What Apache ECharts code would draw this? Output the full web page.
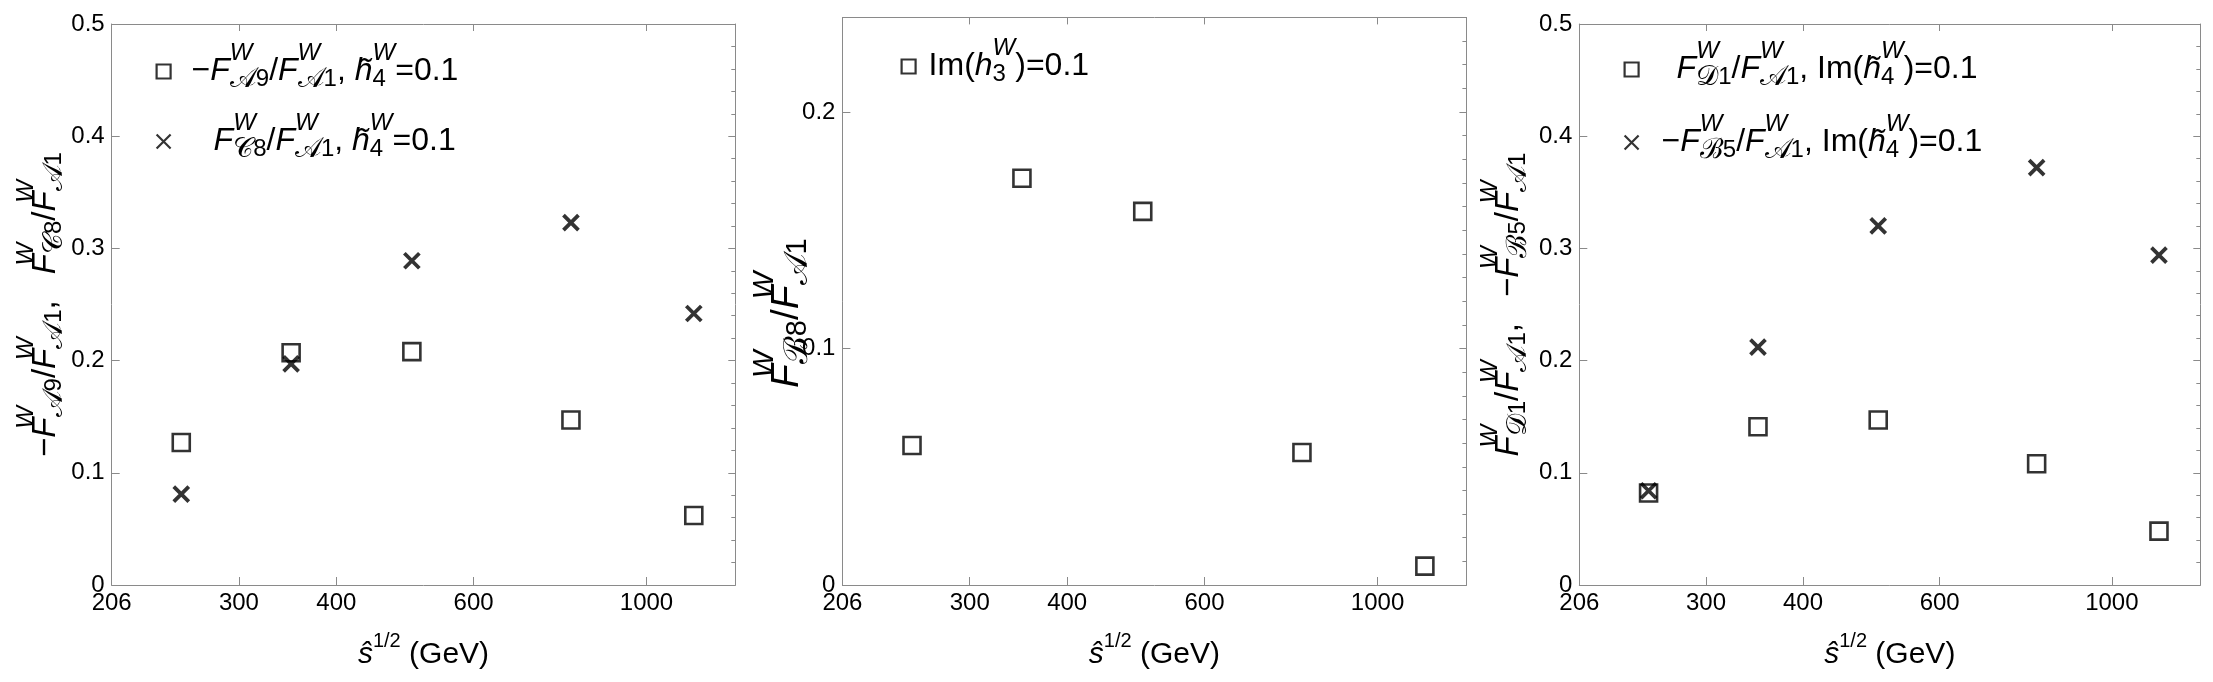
<!DOCTYPE html>
<html><head><meta charset="utf-8">
<script src="https://cdn.jsdelivr.net/npm/echarts@6/dist/echarts.min.js"></script>
<style>html,body{margin:0;padding:0;background:#fff}#c{width:2213px;height:682px}</style>
</head><body><div id="c"></div><script>
// ---- data ----
const sqrtS = [253, 350, 500, 800, 1150];              // GeV
const fA9 = [0.127, 0.207, 0.208, 0.147, 0.062];        // -F_A9/F_A1, h4~=0.1
const fC8 = [0.081, 0.197, 0.289, 0.323, 0.242];        // F_C8/F_A1, h4~=0.1
const fB8 = [0.059, 0.172, 0.158, 0.056, 0.008];        // F_B8/F_A1, Im(h3)=0.1
const fD1 = [0.082, 0.141, 0.147, 0.108, 0.048];        // F_D1/F_A1, Im(h4~)=0.1
const fB5 = [0.084, 0.212, 0.320, 0.372, 0.294];        // -F_B5/F_A1, Im(h4~)=0.1
const xTickLabels = [206, 300, 400, 600, 1000];
const xRange = [206, 1300];
const yTicksHalf = [0, 0.1, 0.2, 0.3, 0.4, 0.5];
const yTicksB8 = [0, 0.1, 0.2];
const yMaxB8 = 0.24;

const FONT = "'Liberation Sans', Arial, sans-serif";
const FRAME = '#8a8a8a';
const CROSS = 'path://M0,0L10,10M0,10L10,0';

function rich(S, L, subR, dnR) {
  const s = Math.round(S * subR);
  const b = {fontFamily: FONT, color: '#000', lineHeight: L};
  const up = Math.round(S * 1.15), dn = Math.round(S * (dnR || 0.5));
  const gap = w => ({...b, fontSize: S, width: w});
  return {
    n: {...b, fontSize: S},
    i: {...b, fontSize: S, fontStyle: 'italic'},
    sup: {...b, fontSize: s, fontStyle: 'italic', padding: [0, 0, up, 0]},
    sup0: {...b, fontSize: s, fontStyle: 'italic', padding: [0, 0, up, 0], width: 0},
    supn: {...b, fontSize: s, padding: [0, 0, Math.round(S * 0.9), 0]},
    sub: {...b, fontSize: s, padding: [dn, 0, 0, 0]},
    sub0: {...b, fontSize: s, padding: [dn, 0, 0, 0], width: 0},
    scr: {...b, fontSize: Math.round(s * 1.15), padding: [dn, 0, 0, 0]},
    gc: gap(Math.round(S * 0.8)), gt: gap(24),
    g8: gap(8), g16: gap(16), g38: gap(38), g33: gap(33), g18: gap(18)
  };
}
const F = (L, d) => `{i|F}{sup0|W}{scr|${L}}{sub|${d}}`;
const HT = `{i|h̃}{sub0|4}{sup|W}`;

const names = {
  y1: `{n|−}${F('𝒜', '9')}{n|/}${F('𝒜', '1')}{n|,}{gc| }${F('𝒞', '8')}{n|/}${F('𝒜', '1')}`,
  y2: `${F('ℬ', '8')}{n|/}${F('𝒜', '1')}{gt| }`,
  y3: `${F('𝒟', '1')}{n|/}${F('𝒜', '1')}{n|,}{gc| }{n|−}${F('ℬ', '5')}{n|/}${F('𝒜', '1')}`,
  x: `{i|ŝ}{supn|1/2}{n| (GeV)}`
};
const legendText = {
  p1a: `{g16| }{n|−}${F('𝒜', '9')}{n|/}${F('𝒜', '1')}{n|, }${HT}{n|=0.1}`,
  p1b: `{g38| }${F('𝒞', '8')}{n|/}${F('𝒜', '1')}{n|, }${HT}{n|=0.1}`,
  p2a: `{g8| }{n|Im(}{i|h}{sub0|3}{sup|W}{n|)=0.1}`,
  p3a: `{g33| }${F('𝒟', '1')}{n|/}${F('𝒜', '1')}{n|, Im(}${HT}{n|)=0.1}`,
  p3b: `{g18| }{n|−}${F('ℬ', '5')}{n|/}${F('𝒜', '1')}{n|, Im(}${HT}{n|)=0.1}`
};

const grids = [
  {left: 111.7, top: 24, width: 623.6, height: 561},
  {left: 842.4, top: 17.4, width: 624, height: 567.6},
  {left: 1579.3, top: 24, width: 621, height: 561}
].map(g => ({...g, containLabel: false, outerBoundsMode: 'none'}));

const lx = xTickLabels.map(v => Math.log10(v));
function xBottom(gi) {
  return {type: 'value', gridIndex: gi, position: 'bottom',
    min: Math.log10(xRange[0]), max: Math.log10(xRange[1]),
    axisLine: {show: true, onZero: false, lineStyle: {color: FRAME, width: 1}},
    axisTick: {show: true, inside: true, length: 8, customValues: lx, lineStyle: {color: FRAME}},
    axisLabel: {show: true, customValues: lx, formatter: v => String(Math.round(Math.pow(10, v))),
      fontFamily: FONT, fontSize: 24, color: '#000', margin: 6},
    splitLine: {show: false},
    name: names.x, nameLocation: 'middle', nameGap: 50, nameMoveOverlap: false,
    nameTextStyle: {rich: rich(30, 40, 0.66)}};
}
function xTop(gi) {
  return {type: 'value', gridIndex: gi, position: 'top',
    min: Math.log10(xRange[0]), max: Math.log10(xRange[1]),
    axisLine: {show: true, onZero: false, lineStyle: {color: FRAME, width: 1}},
    axisTick: {show: true, inside: true, length: 7, customValues: lx, lineStyle: {color: FRAME}},
    axisLabel: {show: false}, splitLine: {show: false}};
}
function yLeft(gi, max, ticks, name, gap, fs) {
  return {type: 'value', gridIndex: gi, position: 'left', min: 0, max: max, interval: 0.1,
    axisLine: {show: true, onZero: false, lineStyle: {color: FRAME, width: 1}},
    axisTick: {show: true, inside: true, length: 8, customValues: ticks, lineStyle: {color: FRAME}},
    axisLabel: {show: true, customValues: ticks, formatter: v => v === 0 ? '0' : v.toFixed(1),
      fontFamily: FONT, fontSize: 24, color: '#000', margin: 7},
    splitLine: {show: false},
    name: name, nameLocation: 'middle', nameGap: gap, nameMoveOverlap: false,
    nameTextStyle: {rich: rich(fs, 48, 0.74, 0.56)}};
}
function yRight(gi, max, split) {
  return {type: 'value', gridIndex: gi, position: 'right', min: 0, max: max, interval: 0.1,
    axisLine: {show: true, onZero: false, lineStyle: {color: FRAME, width: 1}},
    axisTick: {show: true, inside: true, length: 7, lineStyle: {color: FRAME}},
    minorTick: {show: true, splitNumber: split, length: 4, lineStyle: {color: FRAME}},
    axisLabel: {show: false}, splitLine: {show: false}, minorSplitLine: {show: false}};
}

const sq = {symbol: 'rect', symbolSize: 17, itemStyle: {color: 'rgba(0,0,0,0)', borderColor: '#000', borderWidth: 2.6}};
const cr = {symbol: CROSS, symbolSize: 15, itemStyle: {color: '#000', borderColor: '#000', borderWidth: 3.8}};
function ser(name, xi, yi, vals, st) {
  return {type: 'scatter', name, xAxisIndex: xi, yAxisIndex: yi,
    data: sqrtS.map((s, k) => [Math.log10(s), vals[k]]), ...st, emphasis: {disabled: true}};
}
function legend(data, left, top, gap) {
  return {data, left, top, orient: 'vertical', itemGap: gap, itemWidth: 14, itemHeight: 14,
    padding: 0, selectedMode: false, formatter: n => legendText[n],
    itemStyle: {borderWidth: 2.2},
    textStyle: {fontFamily: FONT, fontSize: 32, rich: rich(32, 40, 0.74)}};
}

const chart = echarts.init(document.getElementById('c'), null, {renderer: 'canvas'});
chart.setOption({
  animation: false,
  backgroundColor: '#fff',
  grid: grids,
  xAxis: [xBottom(0), xTop(0), xBottom(1), xTop(1), xBottom(2), xTop(2)],
  yAxis: [yLeft(0, 0.5, yTicksHalf, names.y1, 42, 33), yRight(0, 0.5, 5),
          yLeft(1, yMaxB8, yTicksB8, names.y2, 31, 39), yRight(1, yMaxB8, 10),
          yLeft(2, 0.5, yTicksHalf, names.y3, 46, 33), yRight(2, 0.5, 5)],
  legend: [legend(['p1a', 'p1b'], 155.5, 41, 9), legend(['p2a'], 900.5, 36, 13), legend(['p3a', 'p3b'], 1623.5, 39, 12)],
  series: [
    ser('p1a', 0, 0, fA9, sq), ser('p1b', 0, 0, fC8, cr),
    ser('p2a', 2, 2, fB8, sq),
    ser('p3a', 4, 4, fD1, sq), ser('p3b', 4, 4, fB5, cr)
  ]
});
</script></body></html>
